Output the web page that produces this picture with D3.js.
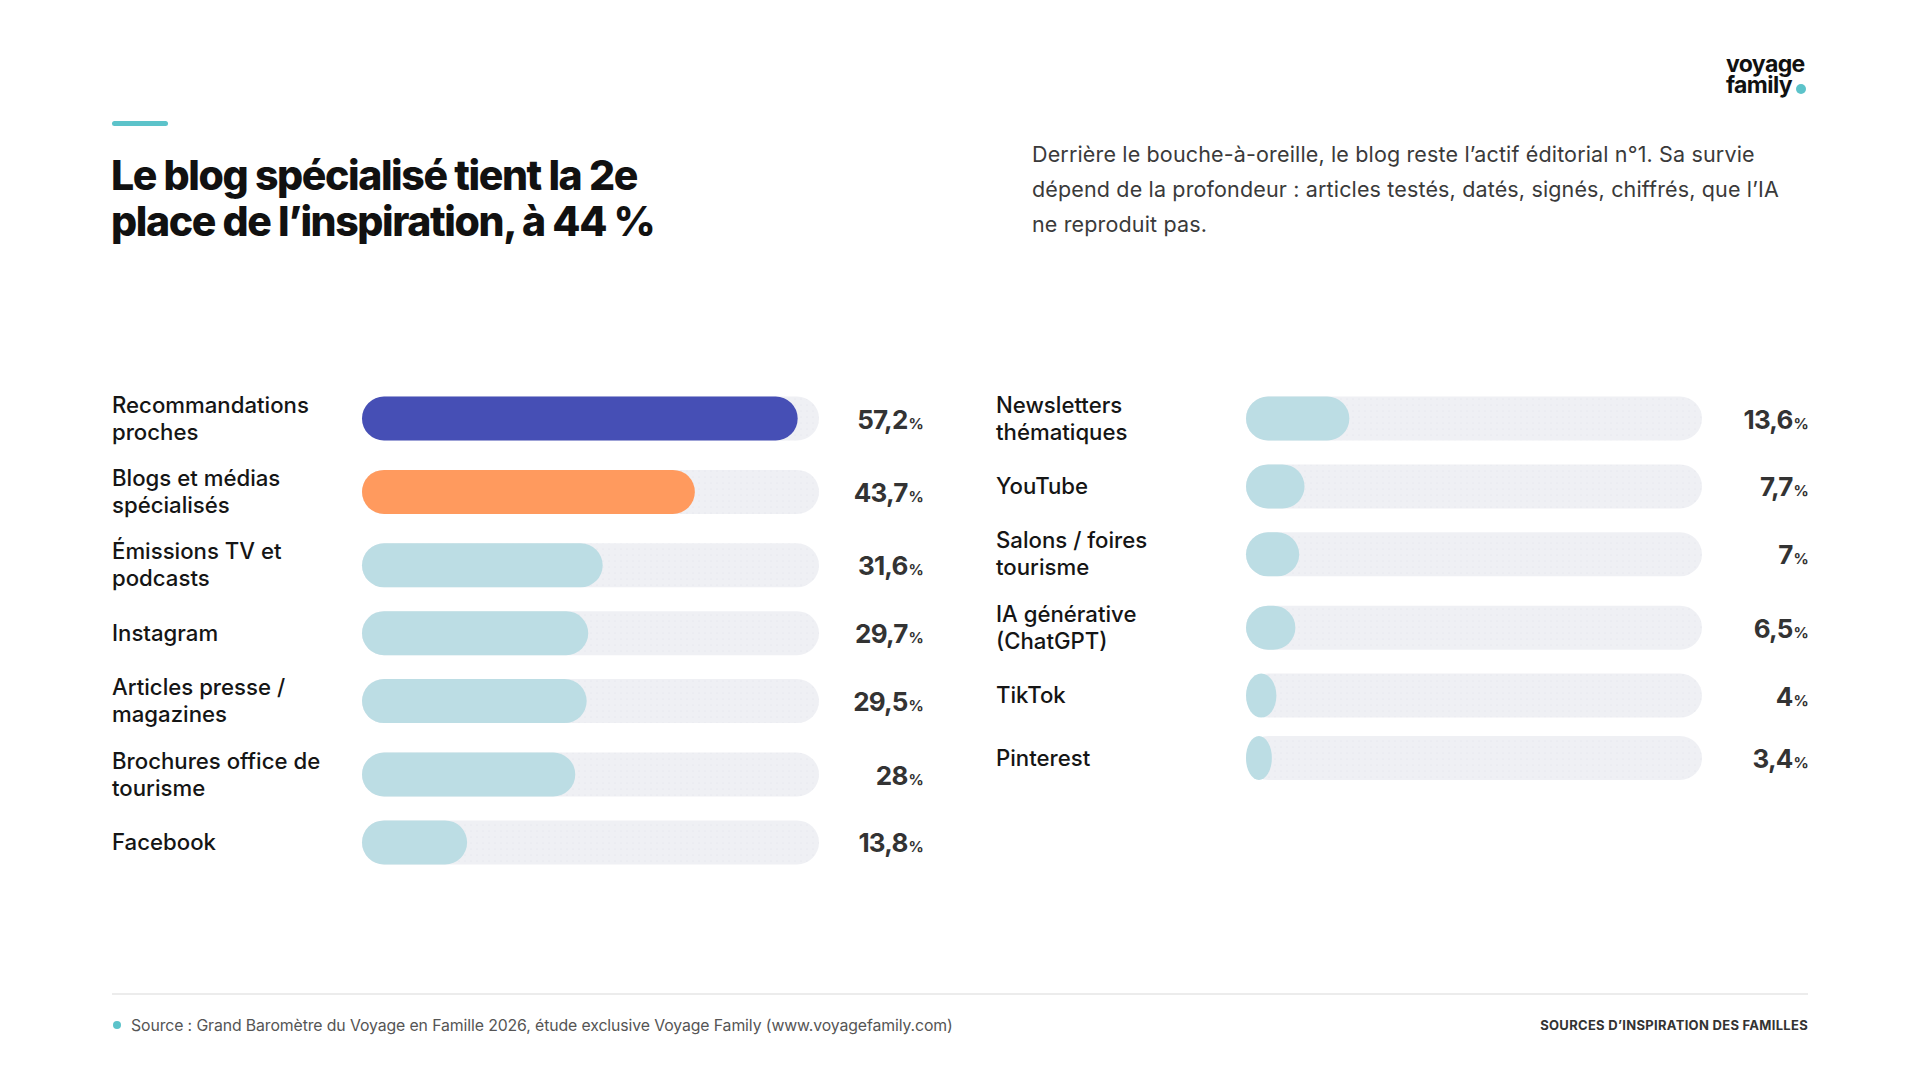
<!DOCTYPE html>
<html>
<head>
<meta charset="utf-8">
<script src="https://cdn.jsdelivr.net/npm/d3@7"></script>
<style>
  html, body { margin: 0; padding: 0; background: #fff; }
  svg { display: block; font-family: Inter, "Noto Sans", sans-serif; }
</style>
</head>
<body>
<svg id="chart" width="1920" height="1080"></svg>
<script>
// data
const leftLabels = [["Recommandations", "proches"], ["Blogs et médias", "spécialisés"], ["Émissions TV et", "podcasts"], ["Instagram"], ["Articles presse /", "magazines"], ["Brochures office de", "tourisme"], ["Facebook"]];
const leftValues = [57.2, 43.7, 31.6, 29.7, 29.5, 28, 13.8];
const rightLabels = [["Newsletters", "thématiques"], ["YouTube"], ["Salons / foires", "tourisme"], ["IA générative", "(ChatGPT)"], ["TikTok"], ["Pinterest"]];
const rightValues = [13.6, 7.7, 7, 6.5, 4, 3.4];
const titleLines = ["Le blog spécialisé tient la 2e", "place de l’inspiration, à 44 %"];
const introLines = ["Derrière le bouche-à-oreille, le blog reste l’actif éditorial n°1. Sa survie", "dépend de la profondeur : articles testés, datés, signés, chiffrés, que l’IA", "ne reproduit pas."];
const sourceText = "Source : Grand Baromètre du Voyage en Famille 2026, étude exclusive Voyage Family (www.voyagefamily.com)";
const footerTag = "SOURCES D’INSPIRATION DES FAMILLES";

const teal = "#5cc3ca";
const svg = d3.select("#chart");

// dotted texture for the tracks
const defs = svg.append("defs");
const pat = defs.append("pattern").attr("id", "dots").attr("width", 6).attr("height", 6).attr("patternUnits", "userSpaceOnUse");
pat.append("rect").attr("width", 6).attr("height", 6).attr("fill", "#eff0f4");
pat.append("circle").attr("cx", 3).attr("cy", 3).attr("r", 0.6).attr("fill", "#e1e3ea");

// header
svg.append("rect").attr("x", 112).attr("y", 121).attr("width", 56).attr("height", 5).attr("rx", 2.5).attr("fill", teal);

svg.append("text").attr("font-weight", 800).attr("font-size", 41).attr("letter-spacing", -1.4).attr("fill", "#111")
  .selectAll("tspan").data(titleLines).join("tspan")
  .attr("x", 111).attr("y", (d, i) => 190 + i * 45.5).text(d => d);

svg.append("text").attr("font-size", 21.5).attr("fill", "#3a3a3a").attr("letter-spacing", 0.15)
  .selectAll("tspan").data(introLines).join("tspan")
  .attr("x", 1032).attr("y", (d, i) => 162 + i * 35).text(d => d);

// logo
const logo = svg.append("g").attr("font-weight", 700).attr("font-size", 23).attr("letter-spacing", -0.6).attr("fill", "#111");
logo.append("text").attr("x", 1726).attr("y", 72).text("voyage");
logo.append("text").attr("x", 1726).attr("y", 93).text("family");
svg.append("circle").attr("cx", 1801).attr("cy", 89).attr("r", 5).attr("fill", teal);

// bars
const x = d3.scaleLinear().domain([0, 60]);
const fmt = v => String(v).replace(".", ",");
const colorFor = (side, i) => side === "left" && i === 0 ? "#464fb5" : side === "left" && i === 1 ? "#ff9a5e" : "#bcdde4";

function column(side, labels, values, labelX, trackX, trackW, valueX) {
  x.range([0, trackW]);
  const barH = 44, gap = 18.4, twoLineH = 55;
  let y = 391;
  const rows = labels.map((lab, i) => {
    const h = lab.length > 1 ? twoLineH : barH;
    const c = y + h / 2;
    y += h + gap;
    return { lab, v: values[i], c, i };
  });
  const g = svg.append("g");
  const row = g.selectAll("g").data(rows).join("g");

  row.append("text").attr("font-size", 22.2).attr("font-weight", 500).attr("fill", "#151515").attr("letter-spacing", 0)
    .selectAll("tspan").data(d => d.lab.map((t, k) => ({ t, y: d.c + 7.5 + (k - (d.lab.length - 1) / 2) * 27 }))).join("tspan")
    .attr("x", labelX).attr("y", d => d.y).text(d => d.t);

  row.append("rect").attr("x", trackX).attr("y", d => d.c - barH / 2).attr("width", trackW).attr("height", barH)
    .attr("rx", barH / 2).attr("fill", "url(#dots)");

  row.append("rect").attr("x", trackX).attr("y", d => d.c - barH / 2)
    .attr("width", d => x(d.v)).attr("height", barH)
    .attr("rx", d => Math.min(barH / 2, x(d.v) / 2)).attr("ry", barH / 2)
    .attr("fill", d => colorFor(side, d.i));

  const val = row.append("text").attr("x", valueX).attr("y", d => d.c + 10).attr("text-anchor", "end")
    .attr("font-weight", 700).attr("fill", "#333").attr("letter-spacing", -0.8);
  val.append("tspan").attr("font-size", 26).text(d => fmt(d.v));
  val.append("tspan").attr("font-size", 15).attr("dx", 1).text("%");
}

column("left", leftLabels, leftValues, 112, 362, 457, 923);
column("right", rightLabels, rightValues, 996, 1246, 456, 1808);

// footer
svg.append("line").attr("x1", 112).attr("x2", 1808).attr("y1", 994).attr("y2", 994).attr("stroke", "#e6e6e6").attr("stroke-width", 1.5);
svg.append("circle").attr("cx", 117).attr("cy", 1025).attr("r", 4).attr("fill", teal);
svg.append("text").attr("x", 131).attr("y", 1031).attr("font-size", 15.8).attr("fill", "#555").attr("letter-spacing", -0.1).text(sourceText);
svg.append("text").attr("x", 1808).attr("y", 1030).attr("text-anchor", "end").attr("font-size", 13).attr("font-weight", 700)
  .attr("letter-spacing", 0.3).attr("fill", "#333").text(footerTag);
</script>
</body>
</html>
